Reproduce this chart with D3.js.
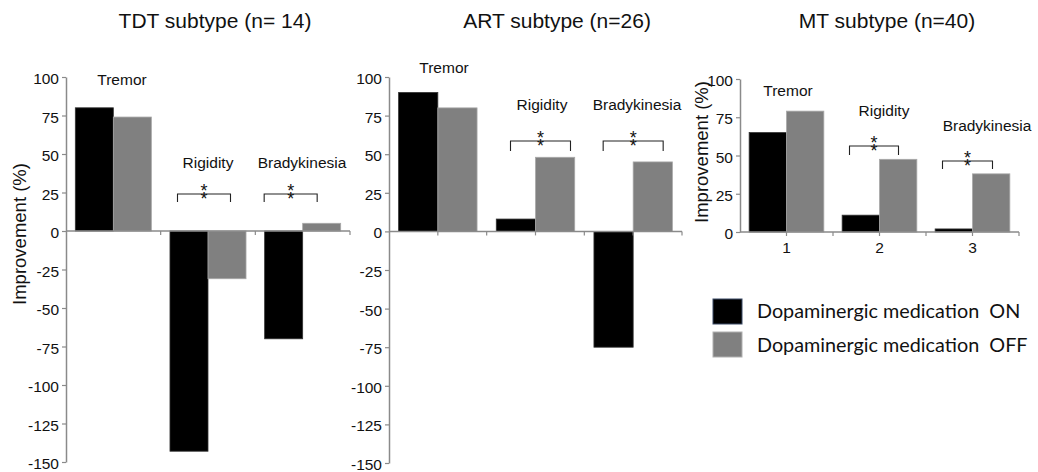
<!DOCTYPE html>
<html>
<head>
<meta charset="utf-8">
<script src="https://cdn.jsdelivr.net/npm/d3@7"></script>
<style>
  html, body { margin: 0; padding: 0; background: #fff; }
  svg { display: block; }
</style>
</head>
<body>
<svg id="chart" width="1038" height="472"></svg>
<script>
// ---------- data ----------
const categories = ["Tremor", "Rigidity", "Bradykinesia"];
const seriesNames = ["Dopaminergic medication  ON", "Dopaminergic medication  OFF"];
const titles = ["TDT subtype (n= 14)", "ART subtype (n=26)", "MT subtype (n=40)"];
const tdtOn  = [80, -143, -70];
const tdtOff = [74, -31, 5];
const artOn  = [90, 8, -75];
const artOff = [80, 48, 45];
const mtOn   = [65, 11, 2];
const mtOff  = [79, 47.5, 38];
const yTicksFull = [100, 75, 50, 25, 0, -25, -50, -75, -100, -125, -150];
const yTicksMT = [100, 75, 50, 25, 0];
const xTickLabelsMT = ["1", "2", "3"];
const yLabel = "Improvement (%)";
const significant = [false, true, true];
const sigMark = "**";

// ---------- styling ----------
const colors = ["#000000", "#808080"];
const strokes = ["#333333", "#a8a8a8"];
const axisColor = "#8a8a8a";
const font = "'Liberation Sans', Arial, sans-serif";

const svg = d3.select("#chart");

// panel layout (pixel positions)
const panels = [
  { on: tdtOn, off: tdtOff, title: titles[0], titleX: 215,
    x: [66, 350], y: [462, 77], domain: [-150, 100], ticks: yTicksFull,
    xTicks: "bounds", xLabels: null, yLabelPos: [20, 234],
    catLabels: [[122, 85], [208, 168], [302, 168]],
    brackets: [null, {dx: -4, hw: 26.5, top: 194, leg: 8}, {dx: -12, hw: 26.5, top: 194, leg: 8}],
  },
  { on: artOn, off: artOff, title: titles[1], titleX: 557,
    x: [389, 682], y: [463, 77], domain: [-150, 100], ticks: yTicksFull,
    xTicks: "both", xLabels: null, yLabelPos: null,
    catLabels: [[444, 73], [542, 110], [637, 110]],
    brackets: [null, {dx: 5, hw: 30, top: 141, leg: 10}, {dx: 0, hw: 30, top: 141, leg: 10}],
  },
  { on: mtOn, off: mtOff, title: titles[2], titleX: 887,
    x: [740, 1019], y: [232, 79], domain: [0, 100], ticks: yTicksMT,
    xTicks: "both", xLabels: xTickLabelsMT, yLabelPos: [702, 152],
    catLabels: [[788, 96], [884, 116], [987, 131]],
    brackets: [null, {dx: -5.5, hw: 24.5, top: 146, leg: 9}, {dx: -5, hw: 25, top: 161, leg: 8}],
  }
];

panels.forEach(p => {
  const g = svg.append("g");
  const y = d3.scaleLinear().domain(p.domain).range(p.y);
  const x0 = d3.scaleBand().domain(categories).range(p.x).paddingInner(0).paddingOuter(0);
  const x1 = d3.scaleBand().domain([0, 1]).range([0, x0.bandwidth()]).paddingInner(0).paddingOuter(0.245);

  // title
  g.append("text").attr("x", p.titleX).attr("y", 28)
    .attr("text-anchor", "middle").attr("font-family", font).attr("font-size", 21)
    .attr("fill", "#111").text(p.title);

  // bars
  const rows = categories.map((c, i) => ({ c, vals: [p.on[i], p.off[i]] }));
  const grp = g.selectAll("g.grp").data(rows).join("g")
    .attr("transform", d => `translate(${x0(d.c)},0)`);
  grp.selectAll("rect").data(d => d.vals.map((v, k) => ({ v, k }))).join("rect")
    .attr("x", d => x1(d.k))
    .attr("width", x1.bandwidth())
    .attr("y", d => y(Math.max(0, d.v)))
    .attr("height", d => Math.abs(y(d.v) - y(0)))
    .attr("fill", d => colors[d.k])
    .attr("stroke", d => strokes[d.k]).attr("stroke-width", 0.8);

  // y axis
  const yAxis = d3.axisLeft(y).tickValues(p.ticks).tickSize(4).tickSizeOuter(0).tickPadding(3)
    .tickFormat(d => String(d));
  const ya = g.append("g").attr("transform", `translate(${p.x[0]},0)`).call(yAxis);
  ya.select(".domain").attr("stroke", axisColor).attr("stroke-width", 1.5);
  ya.selectAll(".tick line").attr("stroke", axisColor).attr("stroke-width", 1.2);
  ya.selectAll(".tick text").attr("font-family", font).attr("font-size", 15.5).attr("fill", "#111")
    .attr("dy", "0.42em");

  // x axis line at zero
  const y0 = y(0);
  g.append("line").attr("x1", p.x[0]).attr("x2", p.x[1]).attr("y1", y0).attr("y2", y0)
    .attr("stroke", axisColor).attr("stroke-width", 1.5);
  let tickXs = categories.map(c => x0(c) + x0.bandwidth());
  if (p.xTicks === "both") tickXs = tickXs.concat(categories.map(c => x0(c) + x0.bandwidth() / 2));
  g.selectAll("line.xt").data(tickXs).join("line").attr("class", "xt")
    .attr("x1", d => d).attr("x2", d => d).attr("y1", y0).attr("y2", y0 + 4)
    .attr("stroke", axisColor).attr("stroke-width", 1.2);
  if (p.xLabels) {
    g.selectAll("text.xl").data(categories).join("text").attr("class", "xl")
      .attr("x", d => x0(d) + x0.bandwidth() / 2).attr("y", y0 + 21)
      .attr("text-anchor", "middle").attr("font-family", font).attr("font-size", 15.5)
      .attr("fill", "#111").text((d, i) => p.xLabels[i]);
  }

  // y label
  if (p.yLabelPos) {
    g.append("text").attr("transform", `translate(${p.yLabelPos[0]},${p.yLabelPos[1]}) rotate(-90)`)
      .attr("text-anchor", "middle").attr("dy", "0.35em")
      .attr("font-family", font).attr("font-size", 18.5).attr("fill", "#111").text(yLabel);
  }

  // category labels
  g.selectAll("text.cl").data(categories).join("text").attr("class", "cl")
    .attr("x", (d, i) => p.catLabels[i][0]).attr("y", (d, i) => p.catLabels[i][1])
    .attr("text-anchor", "middle").attr("font-family", font).attr("font-size", 15.5)
    .attr("fill", "#111").text(d => d);

  // significance brackets: "**" set vertically (glyphs kept upright)
  categories.forEach((c, i) => {
    const b = p.brackets[i];
    if (!significant[i] || !b) return;
    const cx = x0(c) + x0.bandwidth() / 2 + b.dx;
    g.append("path")
      .attr("d", `M${cx - b.hw},${b.top + b.leg}V${b.top}H${cx + b.hw}V${b.top + b.leg}`)
      .attr("fill", "none").attr("stroke", "#222").attr("stroke-width", 1.1);
    g.append("text")
      .attr("transform", `translate(${cx - 3.5},${b.top + 3}) rotate(90)`)
      .attr("rotate", "-90")
      .attr("letter-spacing", 0.5)
      .attr("font-family", font).attr("font-size", 18).attr("fill", "#111")
      .text(sigMark);
  });
});

// legend
const leg = svg.append("g");
const legRows = [{ y: 299, ty: 318 }, { y: 332, ty: 352 }];
seriesNames.forEach((name, k) => {
  leg.append("rect").attr("x", 713).attr("y", legRows[k].y).attr("width", 29).attr("height", 25)
    .attr("fill", colors[k]).attr("stroke", k === 0 ? "#3b4a66" : "#b0b0b0").attr("stroke-width", 1);
  leg.append("text").attr("x", 757).attr("y", legRows[k].ty)
    .attr("font-family", "Lato, 'Open Sans', sans-serif").attr("font-size", 19.8)
    .attr("fill", "#111").attr("xml:space", "preserve").style("white-space", "pre").text(name);
});
</script>
</body>
</html>
